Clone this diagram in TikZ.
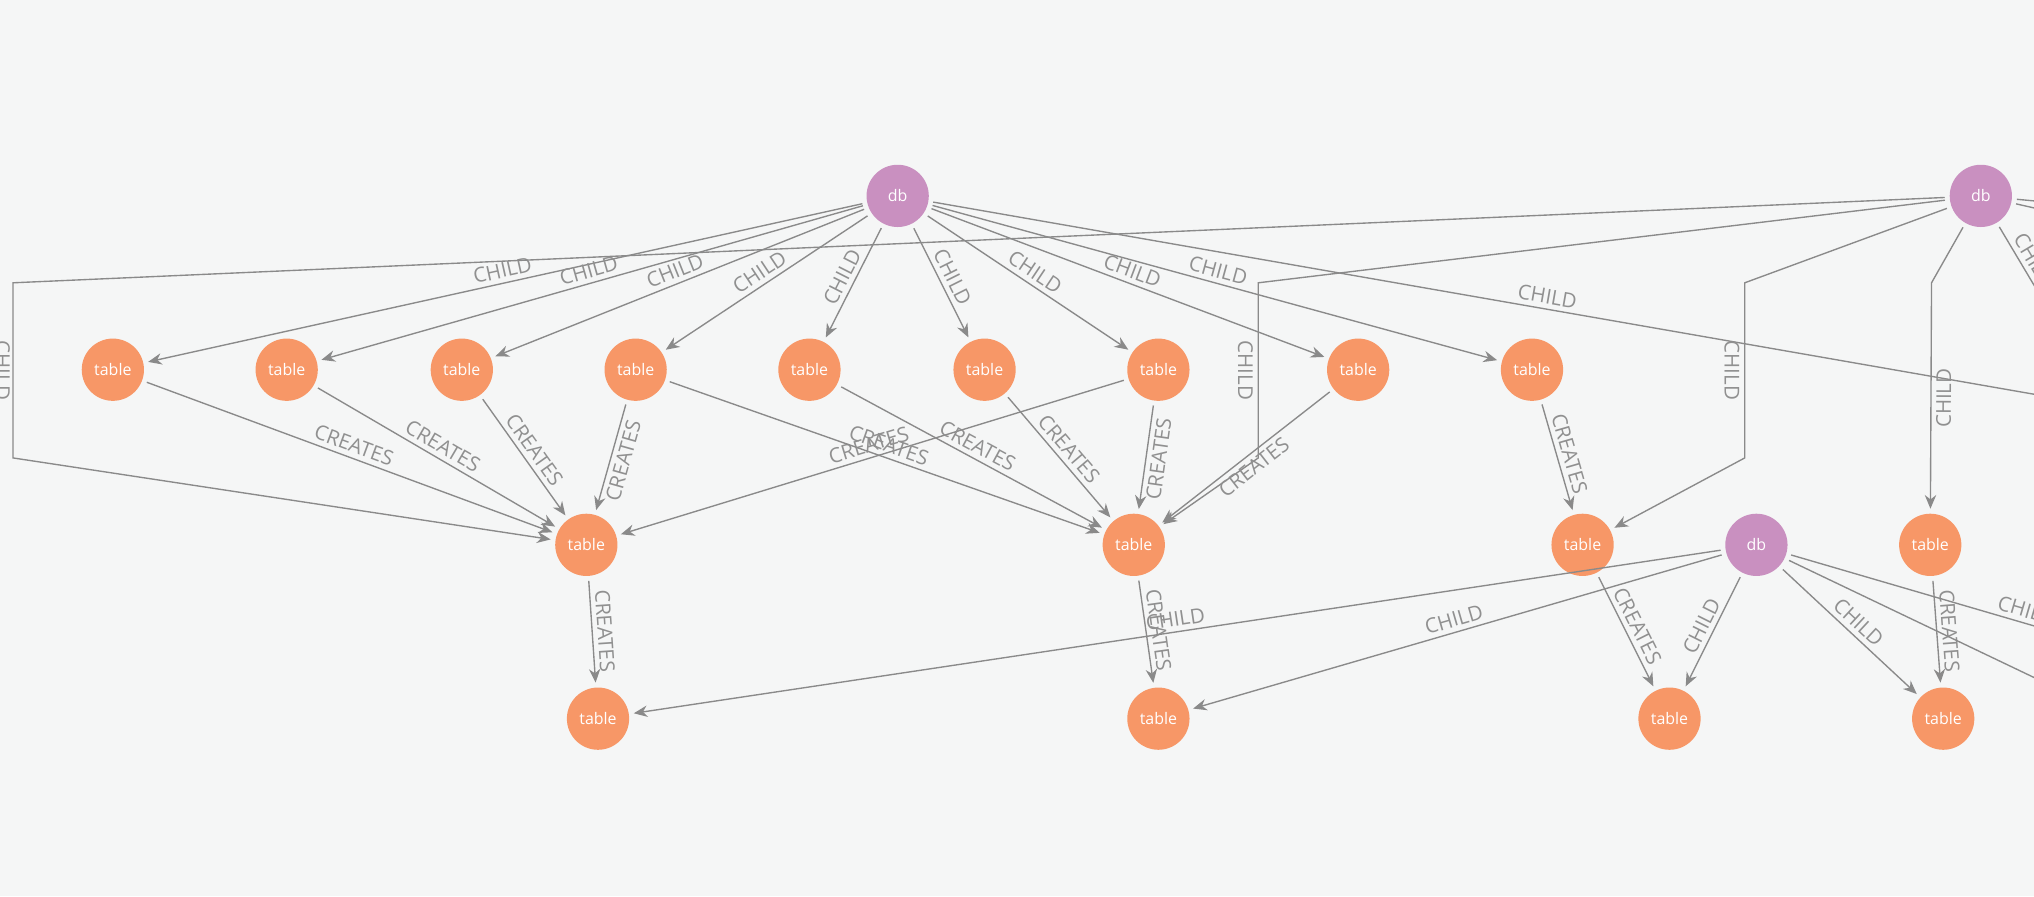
\documentclass[tikz,border=0pt]{standalone}
\usepackage{fontspec}
\setmainfont{Open Sans}
\usetikzlibrary{arrows.meta}
\definecolor{bgc}{HTML}{F5F6F6}
\definecolor{tblc}{HTML}{F79767}
\definecolor{dbc}{HTML}{C990C0}
\definecolor{edgec}{HTML}{8A8A8A}
\definecolor{lblc}{HTML}{909090}
\begin{document}
\begin{tikzpicture}[
        x=0.02cm, y=-0.02cm,
        font=\small
    ]
    \tikzset{
        tbl/.style = {circle, minimum size=0.96cm, inner sep=0pt, fill=tblc, text=white, font=\scriptsize},
        dbn/.style = {circle, minimum size=0.96cm, inner sep=0pt, fill=dbc, text=white, font=\scriptsize},
        rel/.style = {-{Stealth[length=6pt,width=5pt]}, edgec, semithick, shorten >=2pt, shorten <=2pt},
        relo/.style = {edgec, semithick, shorten <=2pt},
        lbl/.style = {auto, sloped, text=lblc, inner sep=2pt},
        lbls/.style = {auto, swap, sloped, text=lblc, inner sep=2pt},
    }
    \fill[bgc] (0,0) rectangle (1568,691);
    \useasboundingbox (0,0) rectangle (1568,691);
    % db nodes
    \node[dbn] at (692,151) (db1) {db};
    \node[dbn] at (1527,151) (db2) {db};
    \node[dbn] at (1354,420) (db3) {db};
    % first row
    \node[tbl] at (87,285) (t1) {table};
    \node[tbl] at (221,285) (t2) {table};
    \node[tbl] at (356,285) (t3) {table};
    \node[tbl] at (490,285) (t4) {table};
    \node[tbl] at (624,285) (t5) {table};
    \node[tbl] at (759,285) (t6) {table};
    \node[tbl] at (893,285) (t7) {table};
    \node[tbl] at (1047,285) (t8) {table};
    \node[tbl] at (1181,285) (t9) {table};
    % second row
    \node[tbl] at (452,420) (ta) {table};
    \node[tbl] at (874,420) (tb) {table};
    \node[tbl] at (1220,420) (tc) {table};
    \node[tbl] at (1488,420) (td) {table};
    % third row
    \node[tbl] at (461,554) (te) {table};
    \node[tbl] at (893,554) (tf) {table};
    \node[tbl] at (1287,554) (tg) {table};
    \node[tbl] at (1498,554) (th) {table};
    % bends and free ends
    \coordinate (ka) at (10,218);
    \coordinate (kb) at (10,353);
    \coordinate (kc) at (970,218);
    \coordinate (kd) at (970,353);
    \coordinate (ke) at (1345,218);
    \coordinate (kf) at (1345,353);
    \coordinate (kg) at (1489,218);
    \coordinate (x1) at (1580,306);
    \coordinate (x2) at (1580,156);
    \coordinate (x3) at (1580,163);
    \coordinate (x4) at (1580,240);
    \coordinate (x5) at (1580,486);
    \coordinate (x6) at (1580,528);
    %
    \draw[rel] (db1) -- node[lbl] {CHILD} (t1);
    \draw[rel] (db1) -- node[lbl] {CHILD} (t2);
    \draw[rel] (db1) -- node[lbl] {CHILD} (t3);
    \draw[rel] (db1) -- node[lbl] {CHILD} (t4);
    \draw[rel] (db1) -- node[lbl] {CHILD} (t5);
    \draw[rel] (db1) -- node[lbl] {CHILD} (t6);
    \draw[rel] (db1) -- node[lbl] {CHILD} (t7);
    \draw[rel] (db1) -- node[lbl] {CHILD} (t8);
    \draw[rel] (db1) -- node[lbl] {CHILD} (t9);
    \draw[relo] (db1) -- node[lbl,pos=0.55] {CHILD} (x1);
    %
    \draw[rel] (db2) -- (ka) -- node[lbls,inner sep=1pt] {CHILD} (kb) -- (ta);
    \draw[rel] (db2) -- (kc) -- node[lbls] {CHILD} (kd) -- (tb);
    \draw[rel] (db2) -- (ke) -- node[lbls] {CHILD} (kf) -- (tc);
    \draw[rel] (db2) -- (kg) -- node[lbls] {CHILD} (td);
    \draw[relo] (db2) -- (x2);
    \draw[relo] (db2) -- (x3);
    \draw[relo] (db2) -- node[lbl] {CHILD} (x4);
    %
    \draw[rel] (t1) -- node[lbl] {CREATES} (ta);
    \draw[rel] (t2) -- node[lbl] {CREATES} (ta);
    \draw[rel] (t3) -- node[lbl] {CREATES} (ta);
    \draw[rel] (t4) -- node[lbls] {CREATES} (ta);
    \draw[rel] (t7) -- node[lbl] {CREATES} (ta);
    \draw[rel] (t4) -- node[lbl] {CREATES} (tb);
    \draw[rel] (t5) -- node[lbl] {CREATES} (tb);
    \draw[rel] (t6) -- node[lbl] {CREATES} (tb);
    \draw[rel] (t7) -- node[lbls] {CREATES} (tb);
    \draw[rel] (t8) -- node[lbls] {CREATES} (tb);
    \draw[rel] (t9) -- node[lbl] {CREATES} (tc);
    %
    \draw[rel] (ta) -- node[lbl] {CREATES} (te);
    \draw[rel] (tb) -- node[lbl] {CREATES} (tf);
    \draw[rel] (tc) -- node[lbl] {CREATES} (tg);
    \draw[rel] (td) -- node[lbl] {CREATES} (th);
    %
    \draw[rel] (db3) -- node[lbl,pos=0.5] {CHILD} (te);
    \draw[rel] (db3) -- node[lbl,pos=0.5] {CHILD} (tf);
    \draw[rel] (db3) -- node[lbl] {CHILD} (tg);
    \draw[rel] (db3) -- node[lbl] {CHILD} (th);
    \draw[relo] (db3) -- node[lbl,pos=0.9] {CHILD} (x5);
    \draw[relo] (db3) -- (x6);
\end{tikzpicture}
\end{document}
